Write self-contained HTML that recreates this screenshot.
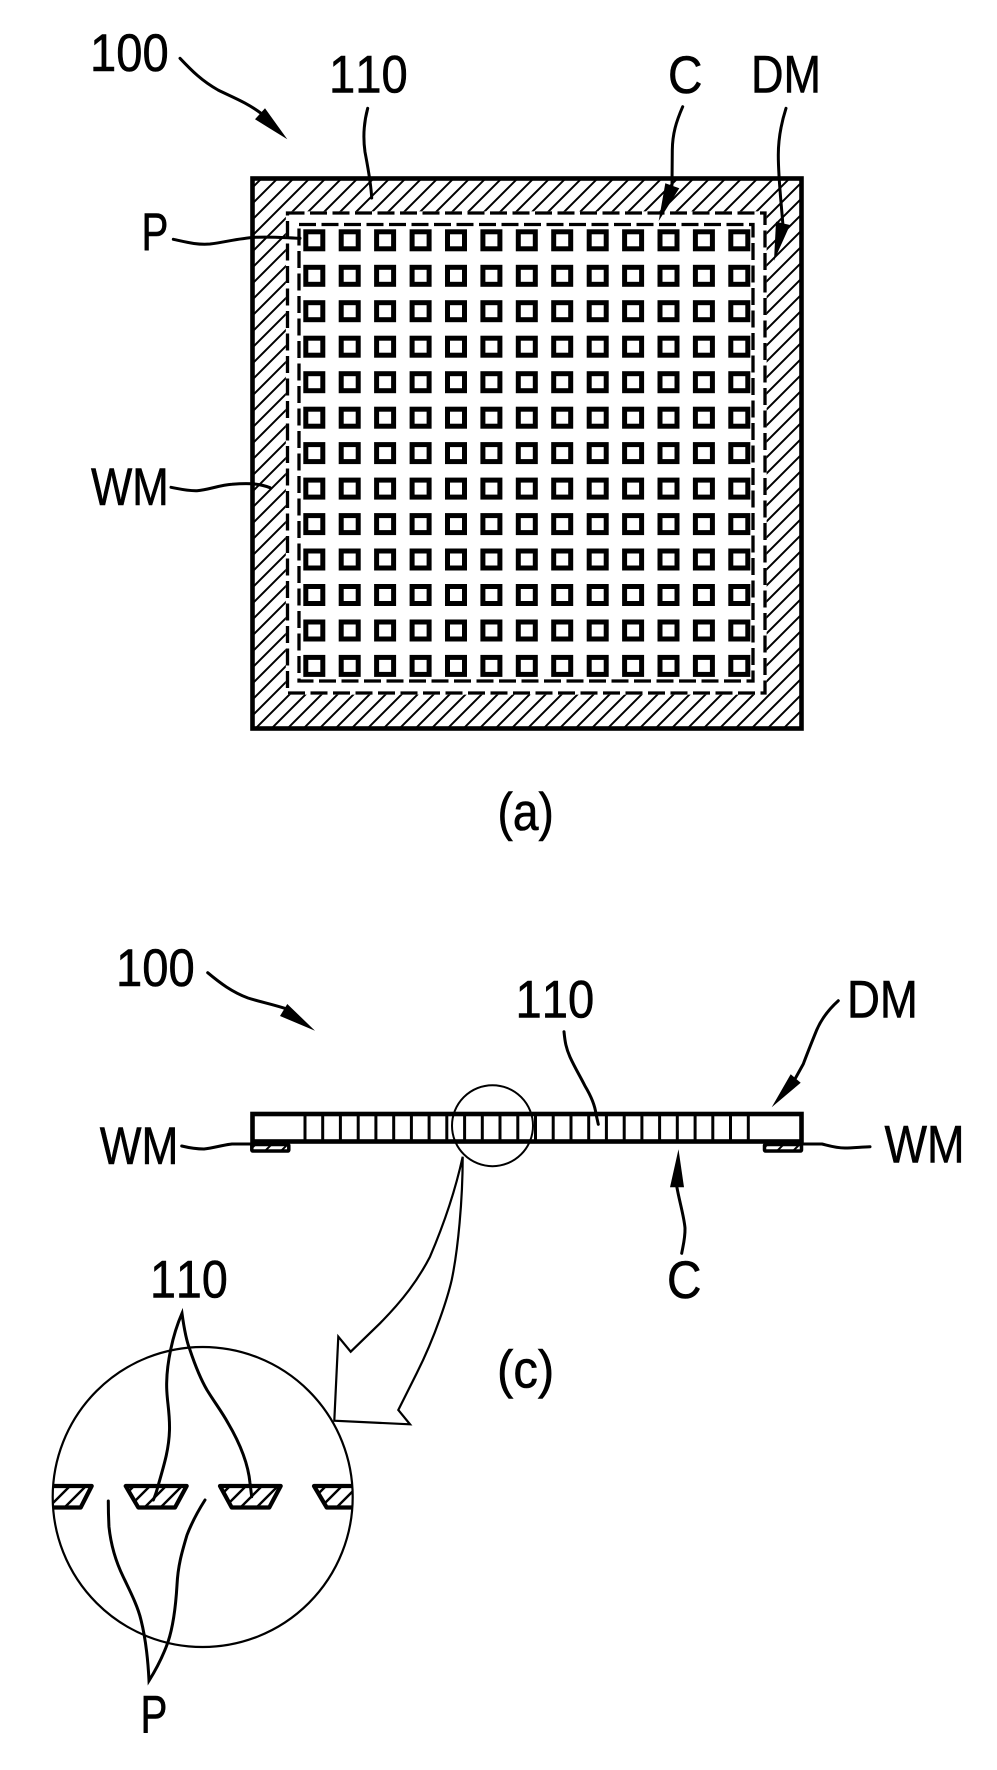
<!DOCTYPE html>
<html>
<head>
<meta charset="utf-8">
<style>
html,body{margin:0;padding:0;background:#fff;}
svg{display:block;}
text{font-family:"Liberation Sans",Arial,sans-serif;font-size:53px;fill:#000;stroke:#000;stroke-width:.6;font-kerning:none;}
</style>
</head>
<body>
<svg xmlns="http://www.w3.org/2000/svg" width="997" height="1770" viewBox="0 0 997 1770">
<defs>
<pattern id="h" width="16" height="16" patternUnits="userSpaceOnUse">
<path d="M-1,9 L9,-1 M7,17 L17,7" stroke="#000" stroke-width="2" fill="none"/>
</pattern>
<pattern id="t" width="16" height="16" patternUnits="userSpaceOnUse">
<path d="M-1,5 L5,-1 M3,17 L17,3" stroke="#000" stroke-width="2.4" fill="none"/>
</pattern>
<g id="r" fill="none" stroke="#000" stroke-width="5">
<rect x="305.8" y="231.8" width="17" height="17"/>
<rect x="341.2" y="231.8" width="17" height="17"/>
<rect x="376.6" y="231.8" width="17" height="17"/>
<rect x="412.1" y="231.8" width="17" height="17"/>
<rect x="447.5" y="231.8" width="17" height="17"/>
<rect x="482.9" y="231.8" width="17" height="17"/>
<rect x="518.3" y="231.8" width="17" height="17"/>
<rect x="553.7" y="231.8" width="17" height="17"/>
<rect x="589.2" y="231.8" width="17" height="17"/>
<rect x="624.6" y="231.8" width="17" height="17"/>
<rect x="660" y="231.8" width="17" height="17"/>
<rect x="695.4" y="231.8" width="17" height="17"/>
<rect x="730.8" y="231.8" width="17" height="17"/>
</g>
</defs>
<rect width="997" height="1770" fill="#fff"/>

<!-- (a) plan view -->
<rect x="252.5" y="178.5" width="549" height="550" fill="url(#h)" stroke="#000" stroke-width="4.6"/>
<rect x="287.5" y="213" width="477.5" height="480" fill="#fff" stroke="#fff" stroke-width="3.3"/>
<rect x="287.5" y="213" width="477.5" height="480" fill="none" stroke="#000" stroke-width="3.3" stroke-dasharray="17 5.5"/>
<rect x="299" y="224.5" width="454" height="456.5" fill="none" stroke="#000" stroke-width="3.3" stroke-dasharray="17 5.5"/>
<use href="#r"/>
<use href="#r" y="35.5"/>
<use href="#r" y="70.9"/>
<use href="#r" y="106.4"/>
<use href="#r" y="141.9"/>
<use href="#r" y="177.4"/>
<use href="#r" y="212.8"/>
<use href="#r" y="248.3"/>
<use href="#r" y="283.8"/>
<use href="#r" y="319.2"/>
<use href="#r" y="354.7"/>
<use href="#r" y="390.2"/>
<use href="#r" y="425.6"/>

<g fill="none" stroke="#000" stroke-width="3" stroke-linecap="round">
<path d="M180,58.3 C192,71 202,81 218,90 C232,97 246,102 262,114"/>
<path d="M367.7,108.3 C364,122 363,138 365,152 C368,168 371,183 371.7,198"/>
<path d="M173.3,239.3 C186,242 196,245 210,244 C226,242 240,238 256,237.3 C272,236.5 288,238 300,238.3"/>
<path d="M682.7,106.7 C676,122 672.5,134 672.3,150 L672,185"/>
<path d="M786,108.3 C781,124 778.3,138 778.3,155 C778.3,178 781,200 783,226"/>
<path d="M171,487.3 C180,489 188,491 197,490.7 C208,490 220,485 232,484.3 C246,483 258,483 270,487.7"/>
</g>
<path d="M287.3,139.3 L255,119.3 L265,108.3 Z" fill="#000"/>
<path d="M658.7,221 L665.3,183.3 L679.3,188.3 Z" fill="#000"/>
<path d="M774,260.7 L776,221.7 L790,225 Z" fill="#000"/>

<text transform="translate(90,71) scale(0.89,1)">100</text>
<text transform="translate(329,92.5) scale(0.89,1)">110</text>
<text transform="translate(141.5,250) scale(0.76,1)">P</text>
<text transform="translate(668,93) scale(0.9,1)">C</text>
<text transform="translate(751,92.5) scale(0.85,1)">DM</text>
<text transform="translate(91,505) scale(0.826,1)">WM</text>
<text transform="translate(497.5,830) scale(0.87,1)">(a)</text>

<!-- (c) section view -->
<rect x="252.5" y="1114" width="549" height="27.5" fill="#fff" stroke="#000" stroke-width="4.6"/>
<path d="M305,1114V1141M322.7,1114V1141M340.4,1114V1141M358.2,1114V1141M375.9,1114V1141M393.7,1114V1141M411.4,1114V1141M429.1,1114V1141M446.8,1114V1141M464.6,1114V1141M482.3,1114V1141M500,1114V1141M517.8,1114V1141M535.5,1114V1141M553.2,1114V1141M571,1114V1141M588.7,1114V1141M606.4,1114V1141M624.2,1114V1141M641.9,1114V1141M659.6,1114V1141M677.3,1114V1141M695.1,1114V1141M712.8,1114V1141M730.5,1114V1141M748.3,1114V1141" stroke="#000" stroke-width="3" fill="none"/>
<rect x="251.8" y="1144.5" width="37" height="6.5" rx="1" fill="url(#h)" stroke="#000" stroke-width="3.5"/>
<rect x="764.5" y="1144.5" width="37" height="6.5" rx="1" fill="url(#h)" stroke="#000" stroke-width="3.5"/>
<circle cx="492.5" cy="1125.7" r="40.5" fill="none" stroke="#000" stroke-width="2"/>

<g fill="none" stroke="#000" stroke-width="3" stroke-linecap="round">
<path d="M207.7,972.7 C220,983 232,992 248,998 C260,1002 272,1004 290,1010"/>
<path d="M181.7,1146 C190,1148 196,1149 204,1149 C214,1148 222,1145 232,1144 L252,1144"/>
<path d="M803,1144 L822,1144 C830,1146 836,1148 845,1148 C853,1148 861,1147 870,1146.7"/>
<path d="M838.3,1000.7 C828,1010 821,1020 816.7,1030 C811,1044 807,1054 803.3,1064 L795,1079"/>
<path d="M564,1031.7 C565,1042 566,1048 570,1057 C575,1068 580,1076 585,1086 C591,1096 595,1106 596,1114 L598.3,1124.3"/>
<path d="M676.7,1186 C679,1200 684,1216 685,1228 C685.3,1238 683,1246 681.7,1253.3"/>
</g>
<path d="M315,1030.7 L280,1016 L287.3,1004 Z" fill="#000"/>
<path d="M771.7,1107.3 L790.7,1074.3 L800.7,1082.7 Z" fill="#000"/>
<path d="M678.5,1149.3 L670,1187.3 L684,1187.3 Z" fill="#000"/>

<!-- big callout arrow -->
<path d="M462.7,1156.7 C455,1192 444,1224 430,1256.7 C418,1280 403,1300 380,1323.3 L350.7,1351.7 L338.3,1336.7 L334.3,1420.7 L410,1424.3 L398.3,1410 L416.7,1373.3 C436,1335 448,1296 451.7,1280 C458,1250 462.7,1200 462.7,1156.7 Z" fill="#fff" stroke="#000" stroke-width="2.2" stroke-linejoin="miter"/>

<text transform="translate(116,986) scale(0.89,1)">100</text>
<text transform="translate(515.5,1017.5) scale(0.89,1)">110</text>
<text transform="translate(847,1017.5) scale(0.86,1)">DM</text>
<text transform="translate(99.7,1164) scale(0.835,1)">WM</text>
<text transform="translate(884.5,1162.5) scale(0.85,1)">WM</text>
<text transform="translate(667,1298) scale(0.9,1)">C</text>
<text transform="translate(497,1387.5) scale(0.925,1)">(c)</text>

<!-- zoom circle -->
<circle cx="202.7" cy="1497" r="150" fill="#fff" stroke="#000" stroke-width="2.2"/>
<g stroke="#000" stroke-width="4.2" stroke-linejoin="round">
<path d="M53,1486 L91.7,1486 L80.7,1507.5 L53,1507.5" fill="url(#t)"/>
<path d="M125.7,1486 L186.7,1486 L175,1507.5 L138.3,1507.5 Z" fill="url(#t)"/>
<path d="M220,1486 L280.7,1486 L269.3,1507.5 L231.7,1507.5 Z" fill="url(#t)"/>
<path d="M352.7,1507.5 L326.7,1507.5 L314,1486 L352.7,1486" fill="url(#t)"/>
</g>

<g fill="none" stroke="#000" stroke-width="3" stroke-linecap="round" stroke-linejoin="miter">
<path d="M153.3,1500 C156,1494 157,1490 158.3,1485 C165,1462 169,1448 169.5,1430 C170,1410 166,1398 166.7,1382 C167,1364 172,1336 182,1313.3 C184,1328 186,1340 190,1350 C195,1365 200,1378 207,1390 C215,1403 222,1412 228,1423 C238,1440 248,1462 250,1483 L251.7,1496.7"/>
<path d="M108.3,1501 C108.3,1512 108.5,1518 109,1527 C111,1546 116,1562 123.3,1577 C131,1593 138,1607 141,1620 C146,1640 148,1660 149,1680.7 C157,1668 163,1656 168,1642 C174,1624 176,1602 177,1585 C178,1565 182,1552 187,1535 C192,1522 198,1511 205,1500"/>
</g>

<text transform="translate(150,1297.5) scale(0.88,1)">110</text>
<text transform="translate(140.5,1732.5) scale(0.76,1)">P</text>
</svg>
</body>
</html>
